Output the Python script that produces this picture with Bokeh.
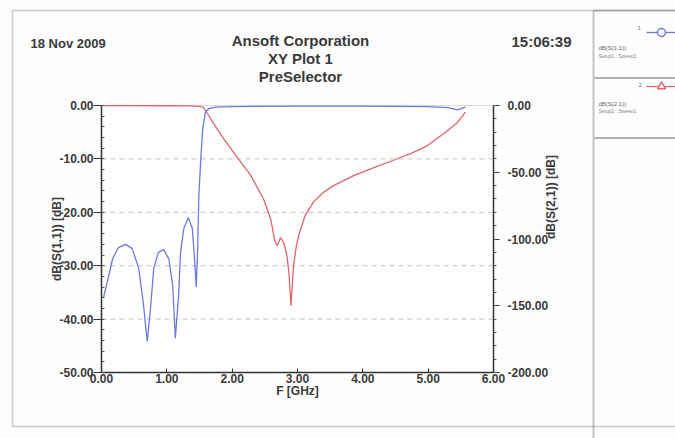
import math
from bokeh.plotting import figure
from bokeh.models import (Range1d, LinearAxis, FixedTicker, NumeralTickFormatter,
                          Label, BoxAnnotation, Legend, LegendItem)
from bokeh.core.properties import value
from bokeh.embed import file_html
from bokeh.resources import INLINE

# ---------------- data ----------------
freq_s11 = [0.03, 0.09, 0.17, 0.26, 0.37, 0.47, 0.57, 0.64, 0.70, 0.75, 0.80, 0.87,
            0.95, 1.03, 1.09, 1.13, 1.18, 1.21, 1.26, 1.33, 1.39, 1.42, 1.45, 1.47,
            1.49, 1.52, 1.55, 1.59, 1.64, 1.75, 2.00, 3.00, 4.00, 5.00, 5.30, 5.45, 5.57]
s11_db = [-36.0, -33.0, -28.7, -26.6, -26.0, -26.8, -30.5, -37.0, -44.2, -38.0, -30.5, -27.5,
          -27.0, -28.7, -33.7, -43.6, -35.6, -27.5, -23.0, -21.0, -23.0, -28.0, -34.0, -27.5,
          -16.9, -10.0, -4.3, -1.3, -0.6, -0.3, -0.2, -0.1, -0.1, -0.2, -0.4, -0.8, -0.3]

freq_s21 = [0.03, 0.50, 1.00, 1.30, 1.45, 1.52, 1.56, 1.64, 1.75, 1.87, 2.08, 2.28,
            2.48, 2.59, 2.65, 2.69, 2.74, 2.79, 2.84, 2.87, 2.90, 2.94, 2.98, 3.02,
            3.12, 3.25, 3.40, 3.55, 3.86, 4.17, 4.47, 4.73, 4.99, 5.24, 5.45, 5.57]
s21_db = [-0.1, -0.1, -0.2, -0.3, -0.5, -0.8, -1.5, -7.5, -16.0, -25.0, -39.0, -52.0,
          -70.0, -85.0, -101.0, -105.0, -99.0, -103.0, -113.0, -126.0, -150.0, -120.0, -106.0, -97.0,
          -82.0, -72.0, -65.0, -60.0, -52.5, -46.5, -41.0, -36.0, -30.0, -21.0, -12.7, -5.0]

x_ticks = [0, 1, 2, 3, 4, 5, 6]
left_ticks = [0, -10, -20, -30, -40, -50]
right_ticks = [0, -50, -100, -150, -200]

header_date = "18 Nov 2009"
header_time = "15:06:39"
title_lines = ["Ansoft Corporation", "XY Plot 1", "PreSelector"]
series_names = ["dB(S(1,1))", "dB(S(2,1))"]
setup_name = "Setup1 : Sweep1"

# ---------------- layout constants (pixels) ----------------
W, H = 675, 438
PL, PR, PT, PB = 101, 493, 105, 372          # plot box inside the page

FONT = "Liberation Sans"
TXT = "#3a3a3a"
BLUE = "#6c78e6"
RED = "#e0646c"

x0, x1 = x_ticks[0], x_ticks[-1]
l_top, l_bot = left_ticks[0], left_ticks[-1]
r_top, r_bot = right_ticks[0], right_ticks[-1]

xs = (x1 - x0) / (PR - PL)
ls = (l_top - l_bot) / (PB - PT)
rs = (r_top - r_bot) / (PB - PT)

p = figure(width=W, height=H, output_backend="svg", toolbar_location=None,
           x_range=Range1d(x0 - PL * xs, x1 + (W - PR) * xs),
           y_range=Range1d(l_bot - (H - PB) * ls, l_top + PT * ls),
           min_border=0, min_border_left=0, min_border_right=0,
           min_border_top=0, min_border_bottom=0)
p.extra_y_ranges = {"s21": Range1d(r_bot - (H - PB) * rs, r_top + PT * rs)}
p.background_fill_color = "#fdfdfd"
p.border_fill_color = "#fdfdfd"
p.outline_line_color = None
p.xgrid.visible = False
p.ygrid.visible = False

# white plot box with grey top edge
p.add_layout(BoxAnnotation(left=x0, right=x1, bottom=l_bot, top=l_top,
                           fill_color="white", fill_alpha=1,
                           line_color="#8a8a8a", line_width=1, level="underlay"))

# dashed horizontal grid at the left-axis ticks
grid_vals = left_ticks[1:-1]
p.segment(x0=[x0] * len(grid_vals), x1=[x1] * len(grid_vals), y0=grid_vals, y1=grid_vals,
          line_color="#c4c4c4", line_dash="5 4", line_width=1)


def style_axis(ax):
    ax.axis_line_color = "#333333"
    ax.axis_line_width = 1.5
    ax.major_tick_line_color = "#333333"
    ax.minor_tick_line_color = "#555555"
    ax.major_label_text_font = FONT
    ax.major_label_text_font_style = "bold"
    ax.major_label_text_font_size = "12px"
    ax.major_label_text_color = TXT
    ax.axis_label_text_font = FONT
    ax.axis_label_text_font_style = "bold"
    ax.axis_label_text_font_size = "12px"
    ax.axis_label_text_color = TXT
    ax.formatter = NumeralTickFormatter(format="0.00")


# bottom axis
xa = p.xaxis[0]
style_axis(xa)
xa.fixed_location = l_bot
xa.bounds = (x0, x1)
xa.ticker = FixedTicker(ticks=x_ticks)
xa.axis_label = "F [GHz]"
xa.major_tick_in = 4
xa.major_tick_out = 0
xa.minor_tick_in = 0
xa.minor_tick_out = 0
xa.major_label_standoff = 1
xa.axis_label_standoff = -2

# left axis
ya = p.yaxis[0]
style_axis(ya)
ya.fixed_location = x0
ya.bounds = (l_bot, l_top)
ya.ticker = FixedTicker(ticks=left_ticks, minor_ticks=list(range(l_bot, l_top + 1, 2)))
ya.axis_label = "dB(S(1,1)) [dB]"
ya.major_tick_out = 8
ya.major_tick_in = 0
ya.minor_tick_in = 3
ya.minor_tick_out = 0
ya.major_label_standoff = 0
ya.axis_label_standoff = -8

# right axis
ra = LinearAxis(y_range_name="s21", axis_label="dB(S(2,1)) [dB]")
style_axis(ra)
ra.fixed_location = x1
ra.bounds = (r_bot, r_top)
ra.ticker = FixedTicker(ticks=right_ticks, minor_ticks=list(range(r_bot, r_top + 1, 10)))
ra.major_tick_out = 6
ra.major_tick_in = 0
ra.minor_tick_out = 3
ra.minor_tick_in = 0
ra.major_label_standoff = 8
ra.axis_label_standoff = 0
if "axis_label_orientation" in LinearAxis.properties():
    ra.axis_label_orientation = math.pi / 2
p.add_layout(ra, "right")

# curves
r21 = p.line(freq_s21, s21_db, y_range_name="s21", line_color=RED, line_width=1.3)
r11 = p.line(freq_s11, s11_db, line_color=BLUE, line_width=1.3)

# page frame lines (screen units: frame == whole canvas, y measured from bottom)
def box(left, right, top, bottom, **kw):
    p.add_layout(BoxAnnotation(left=left, right=right, top=H - top, bottom=H - bottom,
                               left_units="screen", right_units="screen",
                               top_units="screen", bottom_units="screen", **kw))


box(12, W + 20, 10, 426, fill_alpha=0, line_color="#555555", line_width=1.5)
box(593, W + 20, 10, H + 20, fill_alpha=0, line_color="#444444", line_width=2)
for yy in (77, 137):
    box(594, W + 20, yy, yy + 1, fill_color="#666666", fill_alpha=1, line_alpha=0)

# legend glyphs (marker-only proxies with no visible point, for the legend picture)
nan = float("nan")
m11 = p.scatter([nan], [nan], marker="circle", size=7, line_color=BLUE, fill_color="white", line_width=1.5)
m21 = p.scatter([nan], [nan], marker="triangle", size=7, line_color=RED, fill_color="white", line_width=1.5)
legend = Legend(items=[LegendItem(label=value(""), renderers=[r11, m11]),
                       LegendItem(label=value(""), renderers=[r21, m21])],
                location=(646, H - 96), orientation="vertical",
                glyph_width=30, glyph_height=20, label_height=20, spacing=34,
                padding=0, margin=0, label_text_font_size="6px", label_standoff=0,
                label_width=0, background_fill_alpha=0, border_line_alpha=0)
p.add_layout(legend, "center")


def add_text(x, y, text, size="15px", align="left", bold=True, color=TXT):
    p.add_layout(Label(x=x, y=H - y, x_units="screen", y_units="screen", text=text,
                       text_font=FONT, text_font_size=size,
                       text_font_style="bold" if bold else "normal",
                       text_color=color, text_align=align, text_baseline="middle"))


add_text(30, 43, header_date, size="13px")
add_text(571, 41, header_time, size="15px", align="right")
for i, t in enumerate(title_lines):
    add_text(300, 40 + 18 * i, t, align="center")

# legend side texts
add_text(598, 47, series_names[0], size="6px", bold=False, color="#666666")
add_text(598, 55, setup_name, size="5px", bold=False, color="#888888")
add_text(598, 103, series_names[1], size="6px", bold=False, color="#666666")
add_text(598, 110, setup_name, size="5px", bold=False, color="#888888")
add_text(637, 27, "1", size="6px", bold=False, color="#777777")
add_text(638, 84, "2", size="6px", bold=False, color="#777777")

open("out.html", "w").write(file_html(p, INLINE))
